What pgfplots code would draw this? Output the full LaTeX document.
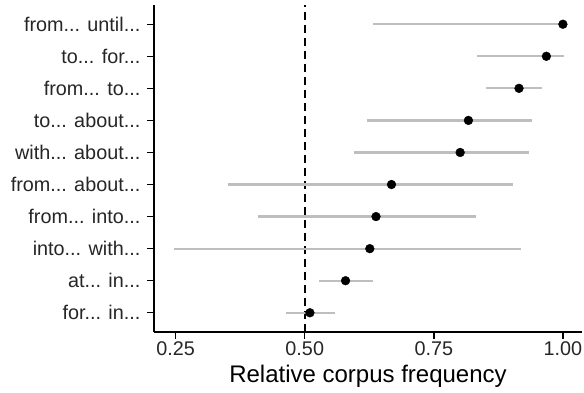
\documentclass[border=0pt]{standalone}
\usepackage{pgfplots}
\pgfplotsset{compat=1.18}
\usepackage{pgfplotstable}
\usepackage{fontspec}
\setmainfont{Liberation Sans}
\definecolor{txt}{HTML}{262626}
\definecolor{cig}{HTML}{BEBEBE}
\pgfplotstableread{
y pt lo hi
1 0.510 0.464 0.558
2 0.579 0.527 0.632
3 0.626 0.247 0.918
4 0.638 0.409 0.831
5 0.668 0.351 0.904
6 0.801 0.595 0.935
7 0.817 0.621 0.941
8 0.915 0.852 0.960
9 0.968 0.834 1.002
10 1.000 0.633 1.000
}\data
\begin{document}
\begin{tikzpicture}
\begin{axis}[
  scale only axis,
  width=428bp, height=327bp,
  xmin=0.208, xmax=1.037,
  ymin=0.4, ymax=10.6,
  axis x line=bottom, axis y line=left,
  axis line style={-, line width=1.4bp, black},
  tick style={line width=1.4bp, black},
  tick align=outside,
  major tick length=6.5bp,
  xtick={0.25,0.5,0.75,1},
  xticklabels={0.25,0.50,0.75,1.00},
  ytick={1,2,3,4,5,6,7,8,9,10},
  yticklabels={{for.{}.{}. in.{}.{}.},{at.{}.{}. in.{}.{}.},{into.{}.{}. with.{}.{}.},{from.{}.{}. into.{}.{}.},{from.{}.{}. about.{}.{}.},{with.{}.{}. about.{}.{}.},{to.{}.{}. about.{}.{}.},{from.{}.{}. to.{}.{}.},{to.{}.{}. for.{}.{}.},{from.{}.{}. until.{}.{}.}},
  ticklabel style={font=\fontsize{19.8bp}{22bp}\selectfont, text=txt},
  yticklabel style={anchor=east, inner sep=0pt, xshift=-7bp},
  xticklabel style={anchor=north, inner sep=0pt, yshift=-3bp},
  /pgf/number format/assume math mode=true,
  xlabel={Relative corpus frequency},
  xlabel style={font=\fontsize{24bp}{26bp}\selectfont, inner sep=0pt, anchor=north, at={(axis description cs:0.5,0)}, yshift=-33bp},
  clip=false,
]
\coordinate (o) at (rel axis cs:0,0);
\draw[black, line width=1.7bp, dash pattern=on 8bp off 5bp] (axis cs:0.5,0.4) -- (axis cs:0.5,10.6);
\addplot[draw=none, mark=none, forget plot,
  error bars/.cd, x dir=both, x explicit, error mark=none,
  error bar style={cig, line width=2.2bp}]
  table[x=pt, y=y, x error plus expr=\thisrow{hi}-\thisrow{pt}, x error minus expr=\thisrow{pt}-\thisrow{lo}] {\data};
\addplot[only marks, mark=*, mark size=4.4bp, black] table[x=pt, y=y] {\data};
\end{axis}
\pgfresetboundingbox
\path (o) ++(-154bp,-61bp) rectangle ++(584bp,393bp);
\end{tikzpicture}
\end{document}
